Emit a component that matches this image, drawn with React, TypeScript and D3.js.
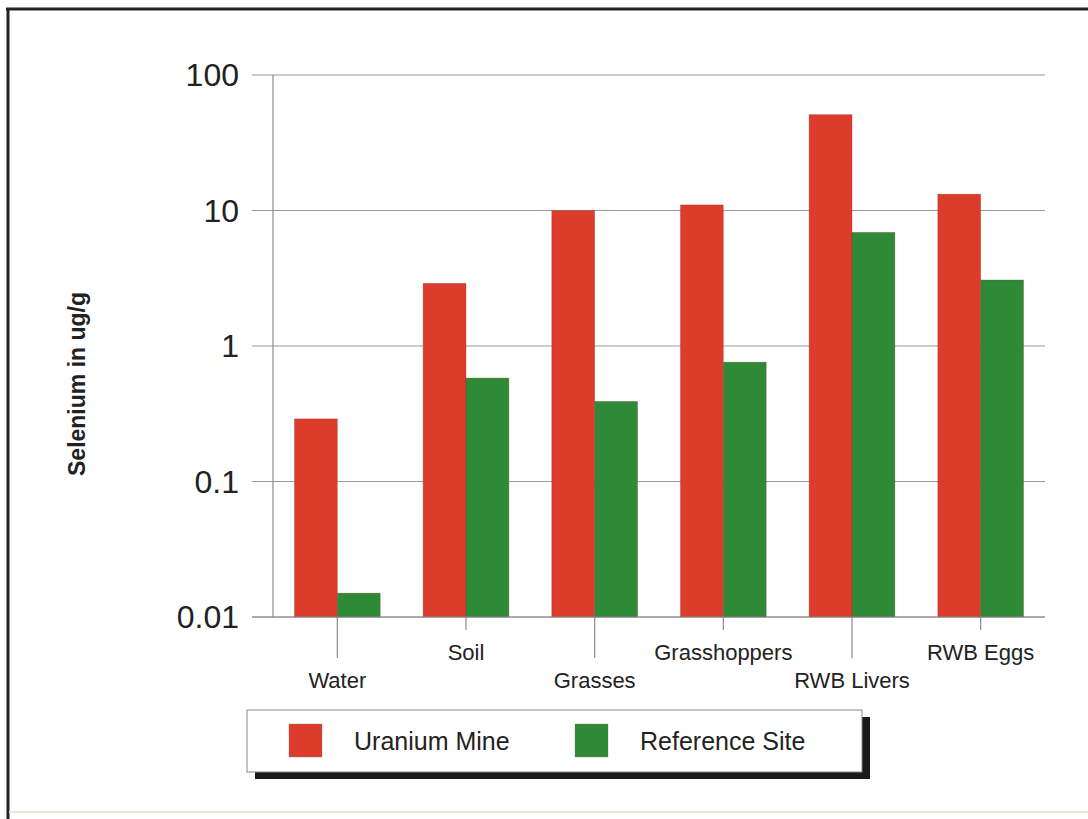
import React from "react";
import * as d3 from "d3";

const categories = ["Water", "Soil", "Grasses", "Grasshoppers", "RWB Livers", "RWB Eggs"];
const uraniumMine = [0.29, 2.9, 10, 11, 51, 13.2];
const referenceSite = [0.015, 0.58, 0.39, 0.76, 6.9, 3.07];
const yTicks = [0.01, 0.1, 1, 10, 100];
const yTickLabels = ["0.01", "0.1", "1", "10", "100"];
const seriesNames = ["Uranium Mine", "Reference Site"];

const RED = "#dd3b2b";
const GREEN = "#2f8a37";
const FONT = "'Liberation Sans', Arial, Helvetica, sans-serif";

export default function App() {
  const W = 1088, H = 819;
  const left = 273, right = 1045, top = 75, bottom = 617;
  const x = d3.scaleBand<string>().domain(categories).range([left, right]).paddingInner(0).paddingOuter(0);
  const y = d3.scaleLog().domain([0.01, 100]).range([bottom, top]);
  const bw = x.bandwidth() / 3;
  const series = [uraniumMine, referenceSite];
  const colors = [RED, GREEN];

  return (
    <svg width={W} height={H} style={{ position: "absolute", left: 0, top: 0, background: "#fff" }} fontFamily={FONT}>
      <rect x={0} y={0} width={W} height={H} fill="#fff" />
      {/* frame */}
      <line x1={6} x2={W} y1={9} y2={9} stroke="#222" strokeWidth={3} />
      <line x1={8} x2={8} y1={8} y2={H} stroke="#222" strokeWidth={3} />
      <line x1={9} x2={W} y1={812} y2={812} stroke="#e6e8dc" strokeWidth={2} />

      {/* gridlines */}
      {yTicks.map((t) => (
        <line key={"g" + t} x1={252} x2={right} y1={y(t)} y2={y(t)} stroke="#9a9a9a" strokeWidth={1.2} />
      ))}
      {yTicks.map((t, i) => (
        <text key={"yl" + t} x={239} y={y(t)} dy="0.35em" textAnchor="end" fontSize={32} fill="#222">
          {yTickLabels[i]}
        </text>
      ))}

      {/* bars */}
      {categories.map((c, ci) => (
        <g key={c}>
          {series.map((s, si) => (
            <rect
              key={si}
              x={(x(c) as number) + x.bandwidth() / 2 - bw + si * bw}
              y={y(s[ci])}
              width={bw}
              height={bottom - y(s[ci])}
              fill={colors[si]}
              stroke="#7a3a30"
              strokeOpacity={0.35}
              strokeWidth={0.8}
            />
          ))}
        </g>
      ))}

      {/* axes */}
      <line x1={left} x2={left} y1={top} y2={bottom} stroke="#8a8a8a" strokeWidth={1.2} />
      <line x1={252} x2={right} y1={bottom} y2={bottom} stroke="#8a8a8a" strokeWidth={1.2} />
      {categories.map((c, ci) => {
        const cx = (x(c) as number) + x.bandwidth() / 2;
        const long = ci % 2 === 0;
        return (
          <g key={"xt" + c}>
            <line x1={cx} x2={cx} y1={bottom} y2={long ? 658 : 630} stroke="#8a8a8a" strokeWidth={1.2} />
            <text x={cx} y={long ? 688 : 660} textAnchor="middle" fontSize={22} fill="#222">
              {c}
            </text>
          </g>
        );
      })}

      {/* y title */}
      <text
        transform={`translate(85,384) rotate(-90)`}
        textAnchor="middle"
        fontSize={23}
        fontWeight="bold"
        fill="#222"
      >
        Selenium in ug/g
      </text>

      {/* legend */}
      <rect x={255} y={717} width={615} height={62} fill="#1a1a1a" />
      <rect x={247} y={710} width={615} height={62} fill="#fff" stroke="#888" strokeWidth={1} />
      {seriesNames.map((n, i) => (
        <g key={n}>
          <rect x={i === 0 ? 289 : 575} y={724} width={33} height={33} fill={colors[i]} stroke="#777" strokeOpacity={0.4} strokeWidth={0.8} />
          <text x={i === 0 ? 354 : 640} y={741} dy="0.35em" fontSize={25} fill="#222">
            {n}
          </text>
        </g>
      ))}
    </svg>
  );
}
